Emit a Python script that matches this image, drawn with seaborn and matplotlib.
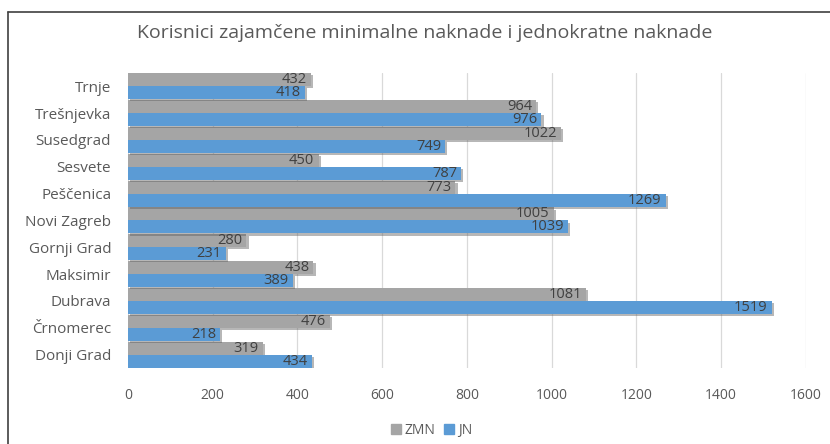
import pandas as pd
import seaborn as sns
import numpy as np
from matplotlib import pyplot as plt
from matplotlib.lines import Line2D
import matplotlib.patheffects as pe

# data
districts = ['Trnje', 'Trešnjevka', 'Susedgrad', 'Sesvete', 'Peščenica', 'Novi Zagreb',
             'Gornji Grad', 'Maksimir', 'Dubrava', 'Črnomerec', 'Donji Grad']
zmn = [432, 964, 1022, 450, 773, 1005, 280, 438, 1081, 476, 319]
jn = [418, 976, 749, 787, 1269, 1039, 231, 389, 1519, 218, 434]
x_ticks = [0, 200, 400, 600, 800, 1000, 1200, 1400, 1600]

df = pd.DataFrame({
    'Kvart': districts * 2,
    'Broj': zmn + jn,
    'Serija': ['ZMN'] * len(zmn) + ['JN'] * len(jn),
})

sns.set_style('white')
plt.rcParams['font.family'] = ['Open Sans', 'DejaVu Sans']

fig = plt.figure(figsize=(8.3, 4.44), dpi=100)
ax = fig.add_axes([0.154, 0.171, 0.817, 0.665])

sns.barplot(data=df, y='Kvart', x='Broj', hue='Serija', order=districts,
            palette={'ZMN': '#A5A5A5', 'JN': '#5B9BD5'}, width=0.97,
            saturation=1, orient='h', ax=ax, legend=False, zorder=3, linewidth=0)

shadow = [pe.SimplePatchShadow(offset=(1.5, -1.5), shadow_rgbFace='#606060', alpha=0.45), pe.Normal()]
for c in ax.containers:
    for bar in c:
        bar.set_path_effects(shadow)
    labels = ax.bar_label(c, padding=-3, fontsize=10.5, color='#404040')
    for t in labels:
        t.set_horizontalalignment('right')

ax.set_xlim(0, 1600)
ax.set_xticks(x_ticks)
ax.xaxis.grid(True, color='#D9D9D9', linewidth=0.9, zorder=0)
ax.set_axisbelow(True)
for s in ax.spines.values():
    s.set_visible(False)
ax.set_xlabel('')
ax.set_ylabel('')
ax.tick_params(axis='x', colors='#595959', labelsize=10, length=0, pad=14)
ax.tick_params(axis='y', colors='#595959', labelsize=11, length=0, pad=12)

fig.suptitle('Korisnici zajamčene minimalne naknade i jednokratne naknade',
             x=0.512, y=0.945, fontsize=14, color='#595959')

handles = [plt.Rectangle((0, 0), 1, 1, color='#A5A5A5'),
           plt.Rectangle((0, 0), 1, 1, color='#5B9BD5')]
fig.legend(handles, ['ZMN', 'JN'], loc='center', bbox_to_anchor=(0.52, 0.03), ncol=2,
           frameon=False, fontsize=10, labelcolor='#595959', handlelength=0.7,
           handleheight=0.7, handletextpad=0.3, columnspacing=0.6)

# frame around the chart
fig.add_artist(Line2D([0.0096, 0.0096], [0.0, 0.973], color='#404040', linewidth=1.2))
fig.add_artist(Line2D([0.0096, 1.0], [0.973, 0.973], color='#404040', linewidth=1.2))

plt.savefig('out.png', dpi=100)
